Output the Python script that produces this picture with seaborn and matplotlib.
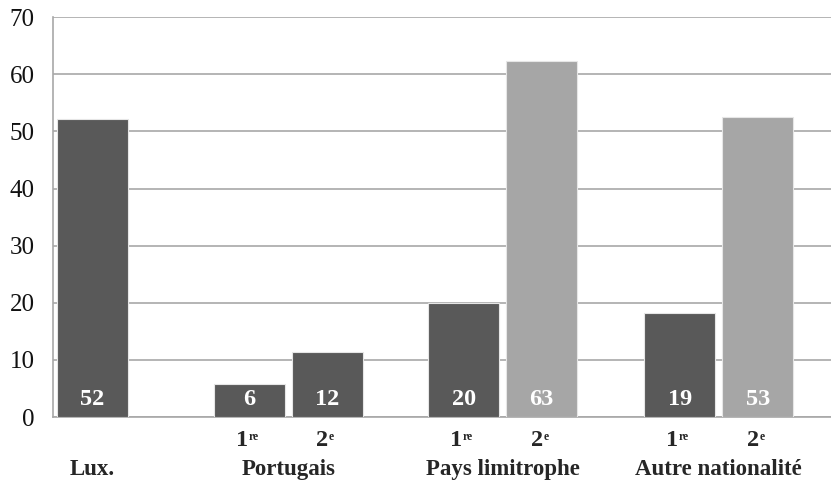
import matplotlib
matplotlib.use("Agg")
import matplotlib.pyplot as plt
import seaborn as sns
import pandas as pd

# data
groups = ["Lux.", "Portugais", "Portugais", "Pays limitrophe", "Pays limitrophe",
          "Autre nationalité", "Autre nationalité"]
generation = ["", "1re", "2e", "1re", "2e", "1re", "2e"]
values = [52.1, 5.7, 11.3, 19.9, 62.4, 18.3, 52.6]
value_labels = ["52", "6", "12", "20", "63", "19", "53"]
shade = ["dark", "dark", "dark", "dark", "light", "dark", "light"]

# layout: slot positions of the bars (not uniform in the original)
positions = [0, 2.01, 3.01, 4.76, 5.76, 7.53, 8.53]

df = pd.DataFrame({"pos": positions, "value": values, "shade": shade,
                   "group": groups, "gen": generation})

sns.set_theme(style="white")
plt.rcParams["font.family"] = ["Liberation Serif", "DejaVu Serif"]

fig = plt.figure(figsize=(8.31, 4.82), dpi=100)
ax = fig.add_axes([53 / 831, 65 / 482, 1 - 53 / 831, 400 / 482])

sns.barplot(data=df, x="pos", y="value", hue="shade",
            palette={"dark": "#595959", "light": "#a6a6a6"},
            native_scale=True, width=0.91, dodge=False, legend=False,
            edgecolor="#e6e6e6", linewidth=0.8, zorder=3, ax=ax)

ax.set_xlim(-0.506, 9.47)
ax.set_ylim(0, 70.05)
ax.set_yticks(range(0, 71, 10))
ax.yaxis.grid(True, color="#a8a8a8", linewidth=1.2, zorder=0)
ax.set_axisbelow(True)
ax.tick_params(axis="y", length=4.3, width=1.0, color="#a8a8a8", pad=9,
               labelsize=18, labelcolor="#111111")

ax.set_xticks([])
ax.set_xlabel("")
ax.set_ylabel("")

for side in ["top", "right"]:
    ax.spines[side].set_visible(False)
for side in ["left", "bottom"]:
    ax.spines[side].set_color("#a8a8a8")
    ax.spines[side].set_linewidth(1.2)

# generation labels: big digit + small superscript
for p, g in zip(positions, generation):
    if not g:
        continue
    shift = -1.5 if g[1:] == "re" else 1.0
    ax.annotate(g[0], xy=(p, 0), xytext=(shift, -23), textcoords="offset pixels",
                ha="right", va="center", fontsize=17.5, fontweight="bold",
                annotation_clip=False)
    ax.annotate(g[1:], xy=(p, 0), xytext=(shift + 0.5, -19.5), textcoords="offset pixels",
                ha="left", va="center", fontsize=8.5, fontweight="bold",
                annotation_clip=False)

# value labels inside bars
for p, lab in zip(positions, value_labels):
    ax.text(p, 3.15, lab, ha="center", va="center", color="white",
            fontsize=17.5, fontweight="bold", zorder=4)

# group labels
seen = {}
for p, g in zip(positions, groups):
    seen.setdefault(g, []).append(p)
for g, ps in seen.items():
    ax.text(sum(ps) / len(ps), -9.2, g, ha="center", va="center",
            fontsize=16.5, fontweight="bold", clip_on=False)

fig.savefig("out.png", dpi=100)
